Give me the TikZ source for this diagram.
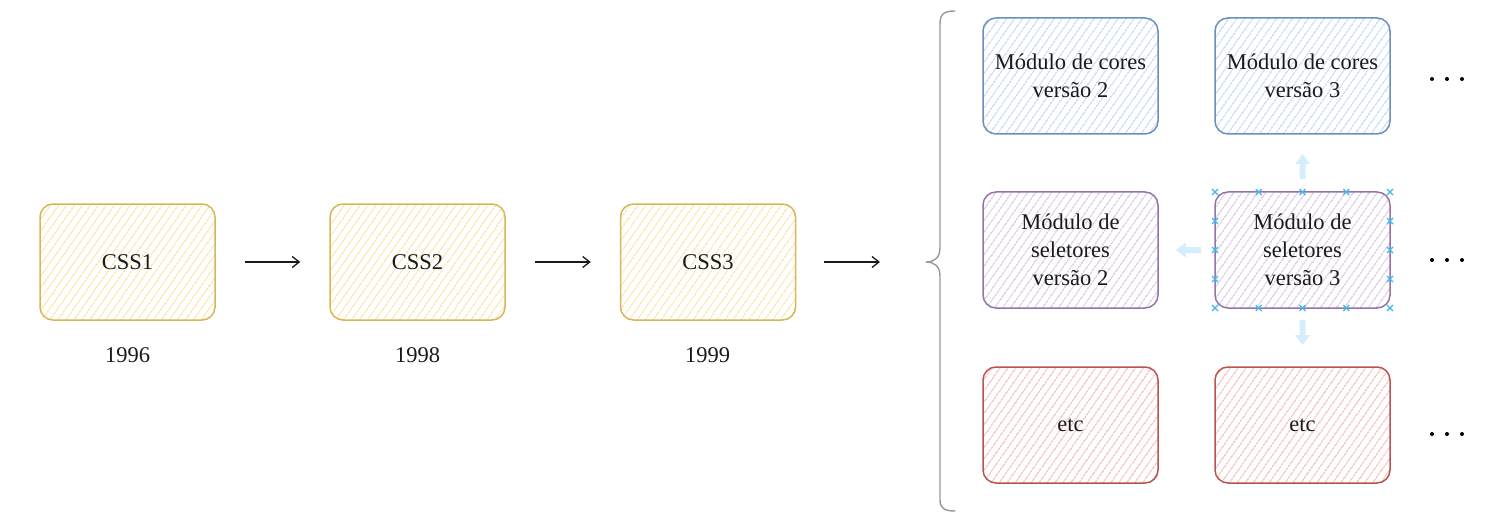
\documentclass[tikz,border=0pt]{standalone}
\usepackage{fontspec}
\setmainfont{Liberation Serif}
\usetikzlibrary{arrows.meta,patterns.meta}

\definecolor{yelline}{HTML}{D6B656}
\definecolor{yelfill}{HTML}{F8E2A2}
\definecolor{bluline}{HTML}{6C8EBF}
\definecolor{blufill}{HTML}{C0D6F5}
\definecolor{purline}{HTML}{9673A6}
\definecolor{purfill}{HTML}{D6C5DF}
\definecolor{redline}{HTML}{B85450}
\definecolor{redfill}{HTML}{F4BAB7}
\definecolor{handlecol}{HTML}{3FB8F0}
\definecolor{handlearr}{HTML}{D5EEFB}
\definecolor{inkcol}{HTML}{1A1A1A}

\tikzset{
	modbox/.style={draw=#1line, line width=1.5pt, rounded corners=13pt,
		pattern={Lines[angle=55,distance=6.5pt,line width=1pt]}, pattern color=#1fill,
		minimum width=175pt, minimum height=116pt, inner sep=0pt,
		align=center, text=inkcol, font=\fontsize{22.5}{28}\selectfont},
	year/.style={text=inkcol, font=\fontsize{22.5}{28}\selectfont},
	conn/.style={-{Straight Barb[length=7pt,width=11pt]}, line width=1.3pt, inkcol},
	xmark/.style={handlecol, line width=1.1pt},
}

\begin{document}
\begin{tikzpicture}[x=1pt,y=-1pt]
			%%%%% START %%%%%
			\useasboundingbox (0,0) rectangle (1492,516);
			
			% versions
			\node[modbox=yel] (css1) at (127.5, 262) {CSS1};
			\node[modbox=yel] (css2) at (417.5, 262) {CSS2};
			\node[modbox=yel] (css3) at (708, 262) {CSS3};
			
			\node[year] (y1) at (127.5, 355) {1996};
			\node[year] (y2) at (417.5, 355) {1998};
			\node[year] (y3) at (707.5, 355) {1999};
			
			\coordinate (bracetip) at (926, 262);
			\draw[conn, shorten <=29pt, shorten >=29pt] (css1.east) -- (css2.west);
			\draw[conn, shorten <=29pt, shorten >=29pt] (css2.east) -- (css3.west);
			\draw[conn, shorten <=28pt, shorten >=46pt] (css3.east) -- (bracetip);
			
			% brace
			\draw[line width=1.4pt, black!40, line cap=round, line join=round]
				(955, 11) .. controls (944, 11) and (940, 14) .. (940, 24)
				-- (940, 248) .. controls (940, 258) and (934, 262) .. (bracetip)
				.. controls (934, 262) and (940, 266) .. (940, 276)
				-- (940, 500) .. controls (940, 508) and (944, 511) .. (955, 511);
			
			% modules
			\node[modbox=blu] (cor2) at (1070.5, 76) {Módulo de cores\\versão 2};
			\node[modbox=blu] (cor3) at (1302.5, 76) {Módulo de cores\\versão 3};
			\node[modbox=pur] (sel2) at (1070.5, 250) {Módulo de\\seletores\\versão 2};
			\node[modbox=pur] (sel3) at (1302.5, 250) {Módulo de\\seletores\\versão 3};
			\node[modbox=red] (etc2) at (1070.5, 425) {etc};
			\node[modbox=red] (etc3) at (1302.5, 425) {etc};
			
			% more to come
			\foreach \y in {79, 260, 434}
				\foreach \x in {1432, 1447, 1462}
					\fill[black] (\x, \y) circle (2pt);
			
			% selection handles
			\foreach \x in {1215, 1258.75, 1302.5, 1346.25, 1390}
				\foreach \y in {192, 308}
					\draw[xmark] (\x-3, \y-3) -- (\x+3, \y+3) (\x-3, \y+3) -- (\x+3, \y-3);
			\foreach \x in {1215, 1390}
				\foreach \y in {221, 250, 279}
					\draw[xmark] (\x-3, \y-3) -- (\x+3, \y+3) (\x-3, \y+3) -- (\x+3, \y-3);
			\foreach \p/\r in {{(1302.5,167)}/0, {(1302.5,332)}/180, {(1189,250)}/90}
				\fill[handlearr, shift={\p}, rotate=\r]
					(0,-13) -- (7.5,-3) -- (3,-3) -- (3,12) -- (-3,12) -- (-3,-3) -- (-7.5,-3) -- cycle;
			
			%%%%% END %%%%%
\end{tikzpicture}
\end{document}
